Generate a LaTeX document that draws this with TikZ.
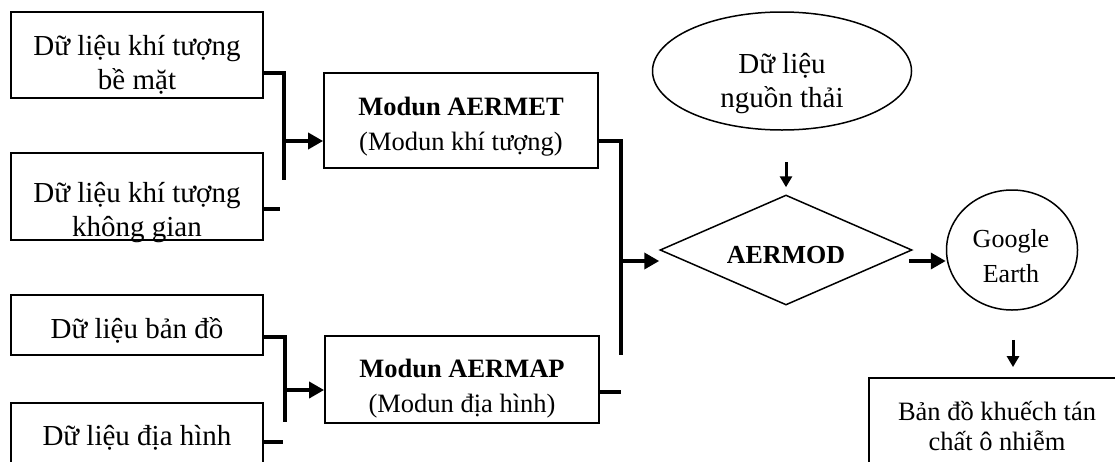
\documentclass[tikz,border=0pt]{standalone}
\usepackage{fontspec}
\setmainfont{Liberation Serif}
\usetikzlibrary{shapes.geometric,arrows.meta}
\begin{document}
\begin{tikzpicture}[x=1pt,y=-1pt,
  box/.style={draw,line width=1.8pt,rectangle,inner sep=0pt},
  shp/.style={draw,line width=1.5pt,inner sep=0pt},
  conn/.style={line width=3.6pt},
  arr/.style={line width=3.6pt,-{Triangle[length=15pt,width=16pt]}},
  sarr/.style={line width=3pt,-{Triangle[length=11pt,width=12pt]}},
  lbl/.style={align=center,anchor=base,inner sep=0pt},
  big/.style={font=\fontsize{29}{34}\selectfont},
  mid/.style={font=\fontsize{26.5}{35}\selectfont},
]
\useasboundingbox (0,0) rectangle (1115,461);
\clip (0,0) rectangle (1115,461);

% input boxes
\node[box,minimum width=252pt,minimum height=86pt] (b1) at (137,55) {};
\node[box,minimum width=252pt,minimum height=87pt] (b2) at (137,196.5) {};
\node[box,minimum width=252pt,minimum height=60pt] (b3) at (137,325) {};
\node[box,minimum width=252pt,minimum height=77pt] (b4) at (137,441.5) {};
\node[lbl,big] (t1) at (137,89) {Dữ liệu khí tượng\\bề mặt};
\node[lbl,big] (t2) at (137,236) {Dữ liệu khí tượng\\không gian};
\node[lbl,big] (t3) at (137,338) {Dữ liệu bản đồ};
\node[lbl,big] (t4) at (137,445) {Dữ liệu địa hình};

% modules
\node[box,minimum width=274pt,minimum height=95pt] (aermet) at (461,120.5) {};
\node[box,minimum width=274pt,minimum height=87pt] (aermap) at (462,379.5) {};
\node[lbl,mid] (tm1) at (461,150) {\textbf{Modun AERMET}\\(Modun khí tượng)};
\node[lbl,mid] (tm2) at (462,412) {\textbf{Modun AERMAP}\\(Modun địa hình)};

% source ellipse
\node[shp,ellipse,minimum width=259pt,minimum height=118pt] (src) at (782,71) {};
\node[lbl,big] (ts) at (782,107) {Dữ liệu\\nguồn thải};

% AERMOD diamond
\node[shp,diamond,aspect=2.29,minimum width=252pt,minimum height=110pt,
      font=\fontsize{26}{30}\selectfont\bfseries,text height=26pt,text depth=0pt] (dia) at (786,250) {AERMOD};

% Google Earth
\node[shp,ellipse,minimum width=131pt,minimum height=120pt] (google) at (1012,250) {};
\node[lbl,font=\fontsize{26}{35}\selectfont] (tg) at (1011,282) {Google\\Earth};

% output map
\node[box,minimum width=254pt,minimum height=104pt] (map) at (996,430) {};
\node[lbl,font=\fontsize{26.5}{30}\selectfont] (tmap) at (997,450) {Bản đồ khuếch tán\\chất ô nhiễm};

% junctions
\coordinate (j1t) at (284,73);
\coordinate (j1m) at (284,141);
\coordinate (j1b) at (284,180);
\coordinate (s2) at (280,209);
\coordinate (j2t) at (285,337);
\coordinate (j2m) at (285,390);
\coordinate (j2b) at (285,422);
\coordinate (s4) at (283,442);
\coordinate (j3t) at (621,141);
\coordinate (j3m) at (621,261);
\coordinate (j3b) at (621,355);
\coordinate (s5) at (621,392);

% upper input group
\draw[conn] (b1.east |- j1t) -- (j1t) -- (j1b);
\draw[conn] (b2.east |- s2) -- (s2);
\draw[arr] (j1m) -- (aermet.west |- j1m);

% lower input group
\draw[conn] (b3.east |- j2t) -- (j2t) -- (j2b);
\draw[conn] (b4.east |- s4) -- (s4);
\draw[arr] (j2m) -- (aermap.west |- j2m);

% modules to AERMOD
\draw[conn] (aermet.east |- j3t) -- (j3t) -- (j3b);
\draw[conn] (aermap.east |- s5) -- (s5);
\draw[arr] (j3m) -- (dia.west |- j3m);

% source to AERMOD
\draw[sarr] ([yshift=32pt]dia.north) -- ([yshift=7pt]dia.north);

% AERMOD to Google Earth
\draw[arr] ([xshift=-4pt,yshift=-11pt]dia.east) -- ([yshift=-11pt]google.west);

% Google Earth to map
\draw[sarr] ([xshift=1pt,yshift=-29pt]google.south) -- ([xshift=17pt,yshift=10pt]map.north);
\end{tikzpicture}
\end{document}
